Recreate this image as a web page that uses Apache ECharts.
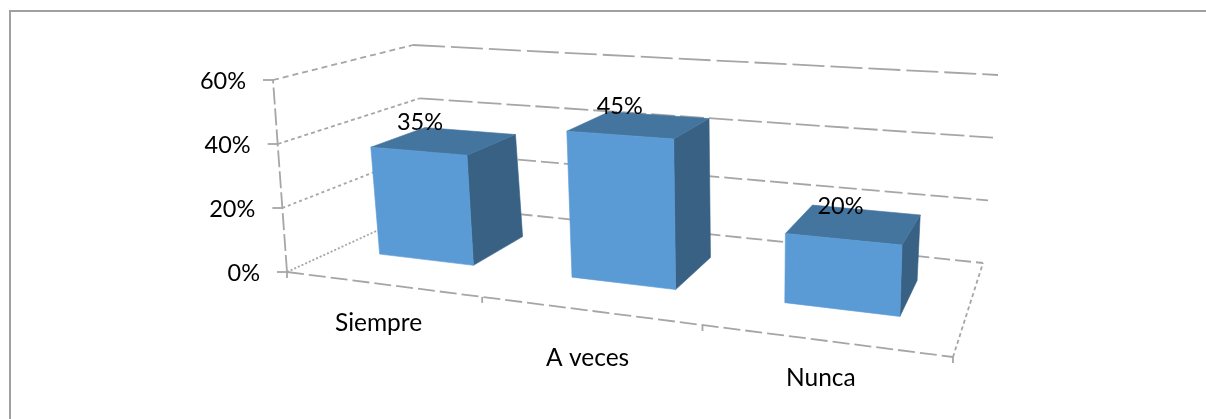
<!DOCTYPE html>
<html>
<head>
<meta charset="utf-8">
<style>html,body{margin:0;padding:0;background:#fff}#chart{width:1206px;height:419px}</style>
<script src="https://cdn.jsdelivr.net/npm/echarts@6/dist/echarts.min.js"></script>
</head>
<body>
<div id="chart"></div>
<script>
// Survey answers, in percent
const categories = ['Siempre', 'A veces', 'Nunca'];
const shares = [35, 45, 20];
const valueTicks = [0, 20, 40, 60];

// Corners of the floor and ceiling of the 3D box, in the order
// front-left, front-right, back-right, back-left
const floorQuad = [[287, 272], [953, 357], [983, 263], [433, 205]];
const ceilingQuad = [[273, 80], [959, 122.5], [998, 75], [413, 45]];

const GRID = { left: 0, top: 0, width: 1000, height: 400 };
const BAR_DEPTH = [0.3, 0.7];
const SKEW_U = -0.005;
const FONT = 'Lato, "Open Sans", sans-serif';
const VALUE_FONT_SIZE = 23.5;
const NAME_FONT_SIZE = 24.5;
const LINE = '#a6a6a6';
const FACE = { front: '#5b9bd5', top: '#44759f', side: '#386184' };

// Square-to-quad homography, used for perspective on a horizontal plane
function homography(q) {
  const [[x0, y0], [x1, y1], [x2, y2], [x3, y3]] = q;
  const dx1 = x1 - x2, dx2 = x3 - x2, sx = x0 - x1 + x2 - x3;
  const dy1 = y1 - y2, dy2 = y3 - y2, sy = y0 - y1 + y2 - y3;
  const det = dx1 * dy2 - dx2 * dy1;
  const g = (sx * dy2 - dx2 * sy) / det;
  const h = (dx1 * sy - sx * dy1) / det;
  const a = x1 - x0 + g * x1, b = x3 - x0 + h * x3;
  const d = y1 - y0 + g * y1, e = y3 - y0 + h * y3;
  return (u, w) => {
    const k = g * u + h * w + 1;
    return [(a * u + b * w + x0) / k, (d * u + e * w + y0) / k];
  };
}
const onFloor = homography(floorQuad);
const onCeiling = homography(ceilingQuad);

// u: along the category axis, w: depth, t: height, all in 0..1
function project(u, w, t) {
  const f = onFloor(u, w), c = onCeiling(u, w);
  return [f[0] + (c[0] - f[0]) * t, f[1] + (c[1] - f[1]) * t];
}

// Turns a point of the flat cartesian grid into box coordinates
function gridToBox(p) {
  return [(p[0] - GRID.left) / GRID.width, (GRID.top + GRID.height - p[1]) / GRID.height];
}

function segment(a, b, dash) {
  return {
    type: 'line', silent: true,
    shape: { x1: a[0], y1: a[1], x2: b[0], y2: b[1] },
    style: { stroke: LINE, lineWidth: 1.8, lineDash: dash, fill: null }
  };
}
function label(text, x, y, align, size) {
  return {
    type: 'text', silent: true,
    style: { text, x, y, align, verticalAlign: 'middle', fill: '#000', fontSize: size, fontFamily: FONT }
  };
}
function face(points, fill) {
  return { type: 'polygon', silent: true, shape: { points }, style: { fill, stroke: fill, lineWidth: 0.6 } };
}

const wallDashes = [[2, 2], [3, 3], [4, 3], [6, 4]];
const backDashes = [[16, 5], [18, 5], [24, 5], [32, 6]];

// Gridlines on the side and back walls, with their tick marks and labels
function renderGridline(params, api) {
  const i = params.dataIndex;
  const t = gridToBox(api.coord([0, api.value(1)]))[1];
  const front = project(0, 0, t), back = project(0, 1, t), far = project(1, 1, t);
  return {
    type: 'group',
    children: [
      segment(front, back, wallDashes[i]),
      segment(back, far, backDashes[i]),
      segment([front[0] - 10, front[1]], front, null),
      label(valueTicks[i] + '%', front[0] - 27, front[1] + 1.5, 'right', VALUE_FONT_SIZE)
    ]
  };
}

// Front and right edges of the box, with the category ticks and names
function renderFrame(params, api) {
  const bandU = api.size([1, 0])[0] / GRID.width;
  const children = [
    segment(project(0, 0, 0), project(0, 0, 1), [17, 4]),
    segment(project(0, 0, 0), project(1, 0, 0), [17, 5]),
    segment(project(1, 0, 0), project(1, 1, 0), [4, 3])
  ];
  const n = categories.length;
  for (let k = 0; k <= n; k++) {
    const u = k * bandU + (k > 0 && k < n ? SKEW_U : 0);
    const p = project(u, 0, 0);
    children.push(segment(p, [p[0], p[1] + 6], null));
  }
  // The middle category name sits on a lower row
  const drops = [39, 47, 37];
  categories.forEach((name, k) => {
    const p = project((k + 0.5) * bandU, 0, 0);
    children.push(label(name, p[0] - 5, p[1] + drops[k], 'center', NAME_FONT_SIZE));
  });
  return { type: 'group', children };
}

function barBox(api) {
  const centre = gridToBox(api.coord([api.value(0), api.value(1)]));
  const halfU = api.size([1, 0])[0] / GRID.width / 4;
  return { l: centre[0] - halfU + SKEW_U, r: centre[0] + halfU + SKEW_U, t: centre[1] };
}

function renderBar(params, api) {
  const { l, r, t } = barBox(api);
  const [near, deep] = BAR_DEPTH;
  const fl = project(l, near, 0), fr = project(r, near, 0), br = project(r, deep, 0);
  const tfl = project(l, near, t), tfr = project(r, near, t), tbr = project(r, deep, t), tbl = project(l, deep, t);
  return {
    type: 'group',
    children: [
      face([fr, br, tbr, tfr], FACE.side),
      face([tfl, tfr, tbr, tbl], FACE.top),
      face([fl, fr, tfr, tfl], FACE.front)
    ]
  };
}

// Value label above the top face of each bar
function renderBarLabel(params, api) {
  const { l, r, t } = barBox(api);
  const p = project((l + r) / 2, 0.5, t);
  return label(api.value(1) + '%', p[0] - 25 + 0.026 * (p[0] - 445), p[1] - 18, 'center', VALUE_FONT_SIZE);
}

const barData = shares.map((v, i) => [i, v]);

const chart = echarts.init(document.getElementById('chart'), null, { renderer: 'canvas' });
chart.setOption({
  animation: false,
  backgroundColor: '#fff',
  grid: Object.assign({ show: false }, GRID),
  xAxis: { type: 'category', data: categories, show: false },
  yAxis: { type: 'value', min: 0, max: 60, interval: 20, show: false },
  graphic: [
    { type: 'polyline', silent: true, shape: { points: [[10, 419], [10, 11], [1206, 11]] },
      style: { stroke: '#a0a0a0', lineWidth: 2, fill: null } }
  ],
  series: [
    { type: 'custom', z: 1, clip: false, silent: true, data: valueTicks.map(v => [0, v]), renderItem: renderGridline,
      encode: { x: 0, y: 1 } },
    { type: 'custom', z: 2, clip: false, silent: true, data: [[0, 0]], renderItem: renderFrame,
      encode: { x: 0, y: 1 } },
    { type: 'custom', z: 3, clip: false, silent: true, data: barData, renderItem: renderBar,
      encode: { x: 0, y: 1 } },
    { type: 'custom', z: 4, clip: false, silent: true, data: barData, renderItem: renderBarLabel,
      encode: { x: 0, y: 1 } }
  ]
});
</script>
</body>
</html>
